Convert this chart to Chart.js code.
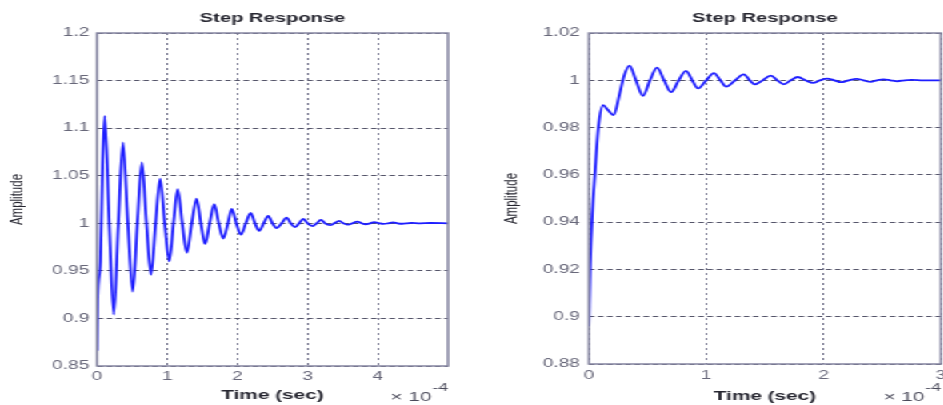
<!DOCTYPE html>
<html>
<head>
<meta charset="utf-8">
<script src="https://cdn.jsdelivr.net/npm/chart.js@4.4.1/dist/chart.umd.min.js"></script>
<style>
  html, body { margin: 0; padding: 0; width: 943px; height: 405px; overflow: hidden; background: #fff; }
  /* the two plots are laid out on a narrow sheet that is widened horizontally */
  #sheet { position: absolute; left: 0; top: 0; width: 610px; height: 405px; transform: scaleX(1.6); transform-origin: 0 0; }
  #left { position: absolute; left: 0; top: 0; }
  #right { position: absolute; left: 300px; top: 0; }
</style>
</head>
<body>
<div id="sheet">
  <canvas id="left" width="300" height="405"></canvas>
  <canvas id="right" width="310" height="405"></canvas>
</div>
<script>
// Step response of the first system (time in units of 1e-4 s)
const leftTime = [0, 0.01, 0.05, 0.08, 0.11, 0.175, 0.24, 0.305, 0.37, 0.44, 0.51, 0.575, 0.64, 0.705, 0.77, 0.835,
  0.90, 0.965, 1.03, 1.09, 1.15, 1.215, 1.28, 1.35, 1.42, 1.48, 1.54, 1.605, 1.67, 1.735, 1.80, 1.865, 1.92,
  1.985, 2.05, 2.12, 2.19, 2.25, 2.31, 2.375, 2.44, 2.50, 2.56, 2.63, 2.70, 2.76, 2.82, 2.88, 2.94, 3.00,
  3.07, 3.13, 3.19, 3.25, 3.32, 3.38, 3.45, 3.51, 3.58, 3.64, 3.71, 3.77, 3.83, 3.89, 3.95, 4.02, 4.08,
  4.15, 4.22, 4.28, 4.35, 4.42, 4.48, 4.60, 4.75, 5.00];
const leftAmplitude = [0.866, 0.92, 0.96, 1.06, 1.113, 1.0, 0.904, 1.0, 1.085, 1.0, 0.928, 1.0, 1.064, 1.0, 0.946, 1.0,
  1.047, 1.0, 0.96, 1.0, 1.036, 1.0, 0.969, 1.0, 1.026, 1.0, 0.978, 1.0, 1.020, 1.0, 0.984, 1.0, 1.015,
  1.0, 0.988, 1.0, 1.011, 1.0, 0.992, 1.0, 1.0078, 1.0, 0.995, 1.0, 1.006, 1.0, 0.996, 1.0, 1.0046, 1.0,
  0.997, 1.0, 1.0036, 1.0, 0.998, 1.0, 1.0025, 1.0, 0.9985, 1.0, 1.0018, 1.0, 0.999, 1.0, 1.0013, 1.0, 0.9993,
  1.0, 1.001, 1.0, 0.9995, 1.0, 1.0005, 1.0, 1.0003, 1.0];

// Step response of the second system (time in units of 1e-4 s)
const rightTime = [0, 0.01, 0.03, 0.05, 0.08, 0.12, 0.16, 0.21, 0.26, 0.30, 0.345, 0.40, 0.46, 0.52, 0.58, 0.64,
  0.70, 0.765, 0.827, 0.88, 0.93, 1.0, 1.065, 1.12, 1.17, 1.245, 1.32, 1.37, 1.415, 1.48, 1.55, 1.605, 1.66,
  1.72, 1.78, 1.845, 1.91, 1.97, 2.03, 2.09, 2.15, 2.215, 2.28, 2.34, 2.40, 2.455, 2.51, 2.57, 2.63, 2.69,
  2.75, 2.85, 3.00];
const rightAmplitude = [0.896, 0.921, 0.945, 0.96, 0.98, 0.9895, 0.9875, 0.9853, 0.994, 1.002, 1.0062, 1.0, 0.9934, 1.0, 1.0054, 1.0,
  0.995, 1.0, 1.004, 1.0, 0.9966, 1.0, 1.003, 1.0, 0.9973, 1.0, 1.0025, 1.0, 0.9983, 1.0, 1.002, 1.0, 0.9983,
  1.0, 1.0014, 1.0, 0.9989, 1.0, 1.0007, 1.0, 0.9992, 1.0, 1.0006, 1.0, 0.9993, 1.0, 1.0004, 1.0, 0.9996, 1.0,
  1.0002, 1.0, 1.0];

// Axis ticks
const leftXTicks = [0, 1, 2, 3, 4];
const leftYTicks = [0.85, 0.9, 0.95, 1.0, 1.05, 1.1, 1.15, 1.2];
const rightXTicks = [0, 1, 2, 3];
const rightYTicks = [0.88, 0.9, 0.92, 0.94, 0.96, 0.98, 1.0, 1.02];

const FONT = '"Liberation Sans", Arial, sans-serif';

// Box around the plot area plus the x10^-4 exponent under the time axis
const framePlugin = {
  id: 'frame',
  afterDraw(chart) {
    const { ctx, chartArea: a } = chart;
    ctx.save();
    ctx.strokeStyle = '#8585a0';
    ctx.lineWidth = 1.5;
    ctx.setLineDash([]);
    ctx.strokeRect(a.left, a.top, a.right - a.left, a.bottom - a.top);

    ctx.fillStyle = '#4a4a5a';
    ctx.textBaseline = 'alphabetic';
    ctx.textAlign = 'right';
    ctx.font = '11px ' + FONT;
    const expW = ctx.measureText('-4').width;
    ctx.fillText('-4', a.right, 391);
    ctx.font = '13px ' + FONT;
    ctx.fillText('\u00d7 10', a.right - expW - 0.5, 401);
    ctx.restore();
  }
};

function makeChart(canvasId, g) {
  const points = g.time.map((t, i) => ({ x: t, y: g.amp[i] }));
  return new Chart(document.getElementById(canvasId), {
    type: 'line',
    data: {
      datasets: [{
        data: points,
        borderColor: '#1e1eff',
        borderWidth: 1.8,
        pointRadius: 0,
        fill: false,
        cubicInterpolationMode: 'monotone'
      }]
    },
    options: {
      responsive: false,
      animation: false,
      events: [],
      layout: { padding: { left: 0, right: g.padRight, top: 0, bottom: 0 } },
      plugins: {
        legend: { display: false },
        tooltip: { enabled: false },
        title: {
          display: true,
          text: 'Step Response',
          fullSize: false,
          color: '#262630',
          font: { family: FONT, size: 12.6, weight: 'bold' },
          padding: { top: 10.9, bottom: 7 }
        }
      },
      scales: {
        x: {
          type: 'linear',
          min: 0,
          max: g.xMax,
          afterBuildTicks: s => { s.ticks = g.xTicks.map(v => ({ value: v })); },
          afterFit: s => { s.height = g.xAxisHeight; },
          ticks: {
            color: '#68687a',
            font: { family: FONT, size: 12 },
            padding: g.xTickPad,
            maxRotation: 0,
            autoSkip: false,
            callback: v => String(v)
          },
          grid: { color: '#6e6e88', lineWidth: 1, drawTicks: false, borderDash: [2, 3] },
          border: { display: false, dash: [2, 3] },
          title: {
            display: true,
            text: 'Time (sec)',
            color: '#262630',
            font: { family: FONT, size: 13, weight: 'bold' },
            padding: { top: 0, bottom: g.xTitlePad }
          }
        },
        y: {
          min: g.yMin,
          max: g.yMax,
          afterBuildTicks: s => { s.ticks = g.yTicks.map(v => ({ value: v })); },
          afterFit: s => { s.width = g.yAxisWidth; },
          ticks: {
            color: '#68687a',
            font: { family: FONT, size: 12 },
            padding: g.yTickPad,
            autoSkip: false,
            callback: v => String(Math.round(v * 1000) / 1000)
          },
          grid: { color: '#55556a', lineWidth: 1, drawTicks: false, borderDash: [3.5, 2.2] },
          border: { display: false, dash: [3.5, 2.2] },
          title: {
            display: true,
            text: 'Amplitude',
            color: '#262630',
            font: { family: FONT, size: 11.5 },
            padding: { top: g.yTitlePad, bottom: 0 }
          }
        }
      }
    },
    plugins: [framePlugin]
  });
}

makeChart('left', {
  time: leftTime, amp: leftAmplitude,
  xTicks: leftXTicks, yTicks: leftYTicks,
  xMax: 5, yMin: 0.85, yMax: 1.2,
  padRight: 20, yAxisWidth: 60.6, xAxisHeight: 39,
  xTickPad: 3.8, yTickPad: 4.7, xTitlePad: 2.2, yTitlePad: 3.7
});

makeChart('right', {
  time: rightTime, amp: rightAmplitude,
  xTicks: rightXTicks, yTicks: rightYTicks,
  xMax: 3, yMin: 0.88, yMax: 1.02,
  padRight: 21.9, yAxisWidth: 68.1, xAxisHeight: 41,
  xTickPad: 4.8, yTickPad: 5.6, xTitlePad: 0.8, yTitlePad: 13.1
});
</script>
</body>
</html>
